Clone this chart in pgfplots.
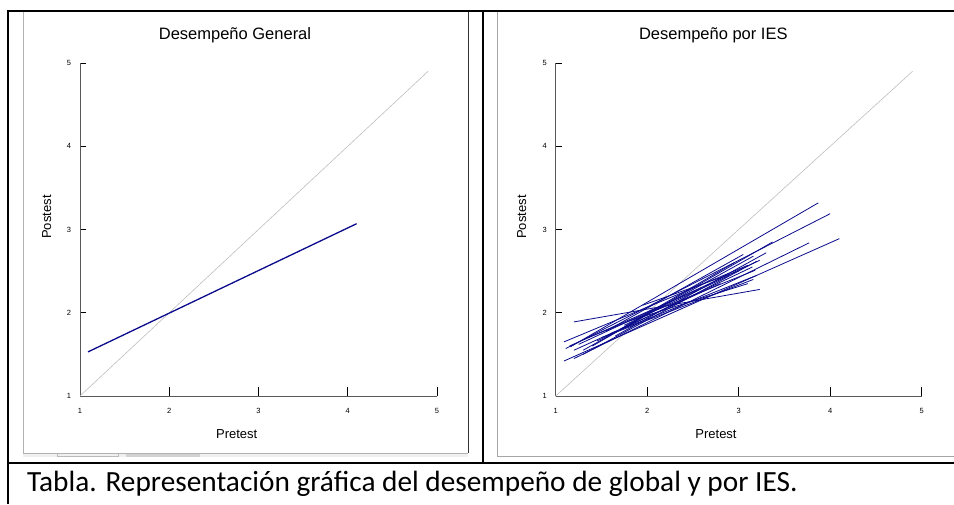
\documentclass[border=0pt]{standalone}
\usepackage{pgfplots}
\pgfplotsset{compat=1.18}
\usepackage{fontspec}
\setmainfont{Liberation Sans}
\newfontfamily\calib{Carlito}
\definecolor{ies}{RGB}{10,10,140}
\definecolor{diag}{RGB}{190,190,190}
\begin{document}
\begin{tikzpicture}[x=1pt,y=1pt]
\useasboundingbox (0,0) rectangle (954,504);
% image frames
\fill[gray!12] (23,47) rectangle (468,51);
\fill[gray!35] (126,47) rectangle (200,51);
\draw[gray!55, line width=0.5pt] (57,47.5) rectangle (118,50.5);
\draw[gray!60, line width=0.8pt] (23,51) -- (23,493);
\draw[gray!60, line width=0.8pt] (23,51) -- (468,51);
\draw[black!80, line width=0.9pt] (468,51) -- (468,493);
\draw[gray!70, line width=0.8pt] (497,48) -- (497,493);
\draw[gray!70, line width=0.8pt] (497,48) -- (954,48);
% table rules
\draw[black, line width=2pt] (7,493) -- (954,493);
\draw[black, line width=2pt] (7.5,494) -- (7.5,0);
\draw[black, line width=2.2pt] (482.8,494) -- (482.8,41.5);
\draw[black, line width=2pt] (6.5,41.5) -- (954,41.5);
\pgfplotsset{
  rstyle/.style={
    scale only axis, height=333pt,
    xmin=1, xmax=5, ymin=1, ymax=5,
    axis lines=left, axis line style={-, black!65, line width=0.9pt},
    xtick={1,2,3,4,5}, ytick={1,2,3,4,5},
    tick align=inside,
    xtick style={black, line width=0.9pt, /pgfplots/major tick length=9pt},
    ytick style={black, line width=0.9pt, /pgfplots/major tick length=6pt},
    /pgf/number format/assume math mode=true,
    ticklabel style={font=\fontsize{7.5}{8}\selectfont, text=black},
    xticklabel style={yshift=-8.5pt},
    yticklabel style={xshift=-5.5pt},
    clip=false,
  },
  ln/.style={ies, line width=0.8pt, mark=none, solid},
}
% left panel
\begin{axis}[rstyle, width=357pt, at={(80pt,108pt)}, anchor=origin]
\addplot[diag, line width=0.6pt] coordinates {(1,1) (4.9,4.9)};
\addplot[ies, line width=1.3pt] coordinates {(1.09,1.53) (4.10,3.07)};
\end{axis}
% right panel
\begin{axis}[rstyle, width=366pt, at={(555.7pt,108pt)}, anchor=origin]
\addplot[diag, line width=0.6pt] coordinates {(1,1) (4.9,4.9)};
\addplot[ln] coordinates {(1.20,1.89) (3.23,2.28)};
\addplot[ln] coordinates {(1.16,1.59) (3.87,3.32)};
\addplot[ln] coordinates {(1.11,1.57) (4.00,3.19)};
\addplot[ln] coordinates {(1.20,1.45) (3.77,2.84)};
\addplot[ln] coordinates {(1.09,1.42) (4.10,2.89)};
\addplot[ln] coordinates {(1.40,1.60) (3.37,2.85)};
\addplot[ln] coordinates {(1.09,1.65) (3.10,2.57)};
\addplot[ln] coordinates {(1.25,1.62) (3.23,2.63)};
\addplot[ln] coordinates {(1.30,1.55) (3.16,2.68)};
\addplot[ln] coordinates {(1.35,1.70) (3.18,2.51)};
\addplot[ln] coordinates {(1.50,1.70) (3.16,2.40)};
\addplot[ln] coordinates {(1.55,1.78) (3.05,2.70)};
\addplot[ln] coordinates {(1.60,1.75) (3.20,2.45)};
\addplot[ln] coordinates {(1.70,1.80) (2.95,2.60)};
\addplot[ln] coordinates {(1.95,2.09) (3.00,2.50)};
\addplot[ln] coordinates {(1.45,1.66) (3.15,2.55)};
\addplot[ln] coordinates {(1.75,1.85) (2.90,2.45)};
\addplot[ln] coordinates {(1.30,1.50) (3.20,2.62)};
\addplot[ln] coordinates {(1.80,1.90) (3.10,2.35)};
\addplot[ln] coordinates {(1.65,1.72) (3.30,2.72)};
\addplot[ln] coordinates {(1.15,1.60) (2.60,2.30)};
\addplot[ln] coordinates {(1.20,1.55) (2.80,2.35)};
\end{axis}
% titles and labels
\node[font=\fontsize{16.5}{18}\selectfont] at (235,468.3) {Desempeño General};
\node[font=\fontsize{16.5}{18}\selectfont] at (713.3,468.3) {Desempeño por IES};
\node[font=\fontsize{13}{15}\selectfont, rotate=90] at (46.7,287) {Postest};
\node[font=\fontsize{13}{15}\selectfont, rotate=90] at (521.7,287) {Postest};
\node[font=\fontsize{13}{15}\selectfont] at (236.7,69.7) {Pretest};
\node[font=\fontsize{13}{15}\selectfont] at (716,69.7) {Pretest};
% caption
\node[anchor=base west, inner sep=0pt, font=\calib\fontsize{29.3}{32}\selectfont] at (27,13) {Tabla. Representación gráfica del desempeño de global y por IES.};
\end{tikzpicture}
\end{document}
